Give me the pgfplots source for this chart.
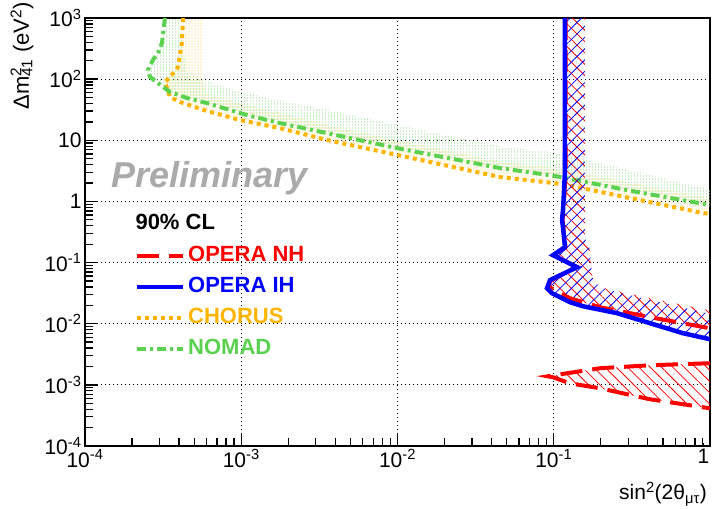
\documentclass[border=0pt]{standalone}
\usepackage{fontspec}
\setmainfont{Liberation Sans}
\usepackage{pgfplots}
\pgfplotsset{compat=1.18}
\usetikzlibrary{patterns.meta}
\definecolor{chorus}{RGB}{255,180,0}
\definecolor{nomad}{RGB}{90,210,80}
\definecolor{prelim}{RGB}{170,170,170}
\begin{document}
\begin{tikzpicture}
\path[use as bounding box] (0,0) rectangle (713pt,509pt);
\begin{axis}[
  at={(85pt,63pt)}, anchor=south west,
  width=625pt, height=428pt, scale only axis,
  xmode=log, ymode=log,
  xmin=1e-4, xmax=1, ymin=1e-4, ymax=1e3,
  xtick={1e-4,1e-3,1e-2,1e-1,1},
  xticklabels={10\textsuperscript{-4},10\textsuperscript{-3},10\textsuperscript{-2},10\textsuperscript{-1},\kern-13pt 1},
  ytick={1e-4,1e-3,1e-2,1e-1,1,10,100,1000},
  yticklabels={10\textsuperscript{-4},10\textsuperscript{-3},10\textsuperscript{-2},10\textsuperscript{-1},1,10,10\textsuperscript{2},10\textsuperscript{3}},
  extra x ticks={2e-4,3e-4,4e-4,5e-4,6e-4,7e-4,8e-4,9e-4,2e-3,3e-3,4e-3,5e-3,6e-3,7e-3,8e-3,9e-3,2e-2,3e-2,4e-2,5e-2,6e-2,7e-2,8e-2,9e-2,0.2,0.3,0.4,0.5,0.6,0.7,0.8,0.9},
  extra y ticks={2e-4,3e-4,4e-4,5e-4,6e-4,7e-4,8e-4,9e-4,2e-3,3e-3,4e-3,5e-3,6e-3,7e-3,8e-3,9e-3,2e-2,3e-2,4e-2,5e-2,6e-2,7e-2,8e-2,9e-2,0.2,0.3,0.4,0.5,0.6,0.7,0.8,0.9,2,3,4,5,6,7,8,9,20,30,40,50,60,70,80,90,200,300,400,500,600,700,800,900},
  extra x tick labels={}, extra y tick labels={},
  extra x tick style={grid=none, major tick length=8pt},
  extra y tick style={grid=none, major tick length=8pt},
  tick align=inside, xtick pos=left, ytick pos=left,
  major tick length=13pt,
  every tick/.style={black, line width=1.3pt},
  grid=major,
  major grid style={black, line width=0.8pt, dash pattern=on 1.2pt off 2.8pt},
  axis line style={line width=1.6pt},
  ticklabel style={font=\fontsize{21}{21}\selectfont},
  legend style={draw=none, fill=none, at={(0.0752,0.48)}, anchor=north west,
    font=\bfseries\fontsize{22}{22}\selectfont, row sep=5pt,
    nodes={inner sep=3pt, text height=16pt, text depth=4pt}},
  legend cell align=left,
  legend image code/.code={\draw[#1] (0pt,0pt) -- (46pt,0pt);},
]
% CHORUS band
\addplot[forget plot, draw=none, pattern={Dots[distance=3pt,radius=0.55pt]}, pattern color=chorus!70] coordinates {
(4.24e-4,1000) (4.17e-4,398) (3.94e-4,158) (3.50e-4,108) (3.25e-4,89.7) (3.50e-4,50.9) (4.06e-4,42.2) (6.04e-4,30.1) (9.82e-4,21.4) (1.77e-3,15.8) (3.54e-3,10.1) (1e-2,5.75) (4.53e-2,2.50) (0.1,2.0) (0.122,1.85) (0.316,1.12) (0.863,0.66) (1,0.62)
(1,1.12) (0.316,2.0) (0.1,3.55) (4.53e-2,4.47) (1e-2,10) (3.54e-3,17.8) (1.77e-3,28.2) (9.82e-4,39.8) (6.04e-4,56.2) (5.6e-4,126) (5.6e-4,1000)
} -- cycle;
% NOMAD band
\addplot[forget plot, draw=none, pattern={Dots[distance=3pt,radius=0.55pt,xshift=1.5pt]}, pattern color=nomad!70] coordinates {
(3.25e-4,1000) (3.16e-4,569) (3.11e-4,390) (2.93e-4,267) (2.72e-4,206) (2.53e-4,141) (2.61e-4,108) (2.93e-4,86.3) (3.50e-4,61.5) (4.50e-4,49.1) (6.04e-4,40.6) (8.11e-4,32.4) (1.09e-3,25.8) (1.77e-3,19.1) (3.54e-3,13.1) (1e-2,7.41) (4.53e-2,3.51) (0.1,2.63) (0.316,1.48) (1,0.871)
(1,1.58) (0.316,3.16) (0.1,6.31) (4.53e-2,7.94) (1e-2,17.8) (3.54e-3,31.6) (1.77e-3,44.7) (9.82e-4,63.1) (6.3e-4,89) (4.47e-4,126) (4.0e-4,1000)
} -- cycle;
% CHORUS line
\addplot[forget plot, chorus, line width=4pt, dash pattern=on 4pt off 4pt] coordinates {
(4.24e-4,1000) (4.17e-4,398) (3.94e-4,158) (3.50e-4,108) (3.25e-4,89.7) (3.50e-4,50.9) (4.06e-4,42.2) (6.04e-4,30.1) (9.82e-4,21.4) (1.77e-3,15.8) (3.54e-3,10.1) (1e-2,5.75) (4.53e-2,2.50) (0.1,2.0) (0.122,1.85) (0.316,1.12) (0.863,0.66) (1,0.62)};
% NOMAD line
\addplot[forget plot, nomad, line width=4pt, dash pattern=on 9pt off 4pt on 3pt off 4pt] coordinates {
(3.25e-4,1000) (3.16e-4,569) (3.11e-4,390) (2.93e-4,267) (2.72e-4,206) (2.53e-4,141) (2.61e-4,108) (2.93e-4,86.3) (3.50e-4,61.5) (4.50e-4,49.1) (6.04e-4,40.6) (8.11e-4,32.4) (1.09e-3,25.8) (1.77e-3,19.1) (3.54e-3,13.1) (1e-2,7.41) (4.53e-2,3.51) (0.1,2.63) (0.316,1.48) (1,0.871)};
% OPERA NH hatch (upper)
\addplot[forget plot, draw=none, pattern={Lines[angle=-45,distance=8pt,line width=0.8pt]}, pattern color=red] coordinates {
(0.119,1000) (0.119,3.16) (0.117,1.26) (0.115,0.72) (0.114,0.5) (0.115,0.38) (0.119,0.18) (0.1,0.132) (0.14,0.085) (0.095,0.05) (0.093,0.04) (0.127,0.0261) (0.198,0.0186) (0.413,0.0128) (1,0.00843)
(1,0.0166) (0.413,0.0261) (0.198,0.0395) (0.176,0.0577) (0.171,0.160) (0.158,0.261) (0.158,1000)} -- cycle;
% OPERA IH hatch
\addplot[forget plot, draw=none, pattern={Lines[angle=45,distance=8pt,line width=0.8pt]}, pattern color=blue] coordinates {
(0.118,1000) (0.118,3.16) (0.116,1.26) (0.1146,0.721) (0.113,0.501) (0.1146,0.379) (0.118,0.179) (0.0989,0.132) (0.141,0.0841) (0.0946,0.0515) (0.0906,0.0381) (0.0975,0.0316) (0.127,0.0225) (0.154,0.0193) (0.254,0.0149) (0.413,0.0102) (0.671,0.0070) (1,0.00557)
(1,0.0145) (0.413,0.0245) (0.198,0.0385) (0.176,0.0577) (0.171,0.160) (0.158,0.261) (0.158,1000)} -- cycle;
% OPERA NH lower island hatch
\addplot[forget plot, draw=none, pattern={Lines[angle=-45,distance=8pt,line width=0.8pt]}, pattern color=red] coordinates {
(0.0918,0.00138) (0.122,0.00155) (0.198,0.00187) (0.413,0.00209) (1,0.00226)
(1,0.000414) (0.413,0.000581) (0.198,0.000879) (0.127,0.00106) (0.0989,0.00133)} -- cycle;
% OPERA NH lines
\addplot[forget plot, red, line width=4pt, dash pattern=on 22pt off 10pt] coordinates {
(0.119,1000) (0.119,3.16) (0.117,1.26) (0.115,0.72) (0.114,0.5) (0.115,0.38) (0.119,0.18) (0.1,0.132) (0.14,0.085) (0.095,0.05) (0.093,0.04) (0.127,0.0261) (0.198,0.0186) (0.413,0.0128) (1,0.00843)};
\addplot[forget plot, red, line width=4pt, dash pattern=on 22pt off 10pt] coordinates {
(1,0.00226) (0.413,0.00209) (0.198,0.00187) (0.122,0.00155) (0.0918,0.00138) (0.0989,0.00133) (0.127,0.00106) (0.198,0.000879) (0.413,0.000581) (1,0.000414)};
% OPERA IH line
\addplot[forget plot, blue, line width=4.5pt] coordinates {
(0.118,1000) (0.118,3.16) (0.116,1.26) (0.1146,0.721) (0.113,0.501) (0.1146,0.379) (0.118,0.179) (0.0989,0.132) (0.141,0.0841) (0.0946,0.0515) (0.0906,0.0381) (0.0975,0.0316) (0.127,0.0225) (0.154,0.0193) (0.254,0.0149) (0.413,0.0102) (0.671,0.0070) (1,0.00557)};
% legend
\addlegendimage{red, line width=4pt, dash pattern=on 22pt off 10pt}
\addlegendentry{\textcolor{red}{OPERA NH}}
\addlegendimage{blue, line width=4pt}
\addlegendentry{\textcolor{blue}{OPERA IH}}
\addlegendimage{chorus, line width=4pt, dash pattern=on 4pt off 4pt}
\addlegendentry{\textcolor{chorus}{CHORUS}}
\addlegendimage{nomad, line width=4pt, dash pattern=on 9pt off 4pt on 3pt off 4pt}
\addlegendentry{\textcolor{nomad}{NOMAD}}
\node[anchor=base west, font=\bfseries\fontsize{22}{22}\selectfont] at (rel axis cs:0.0752,0.505) {90\% CL};
\node[anchor=base west, font=\bfseries\itshape\fontsize{36}{36}\selectfont, text=prelim] at (rel axis cs:0.036,0.605) {Preliminary};
\end{axis}
\node[rotate=90, anchor=east, font=\fontsize{22}{22}\selectfont, inner sep=0pt] at (22pt,507pt) {Δm\rlap{\textsuperscript{2}}\textsubscript{41} (eV\textsuperscript{2})};
\node[anchor=base east, font=\fontsize{21}{21}\selectfont, inner sep=0pt] at (707pt,9pt) {sin\textsuperscript{2}(2θ\textsubscript{μτ})};
\end{tikzpicture}
\end{document}
